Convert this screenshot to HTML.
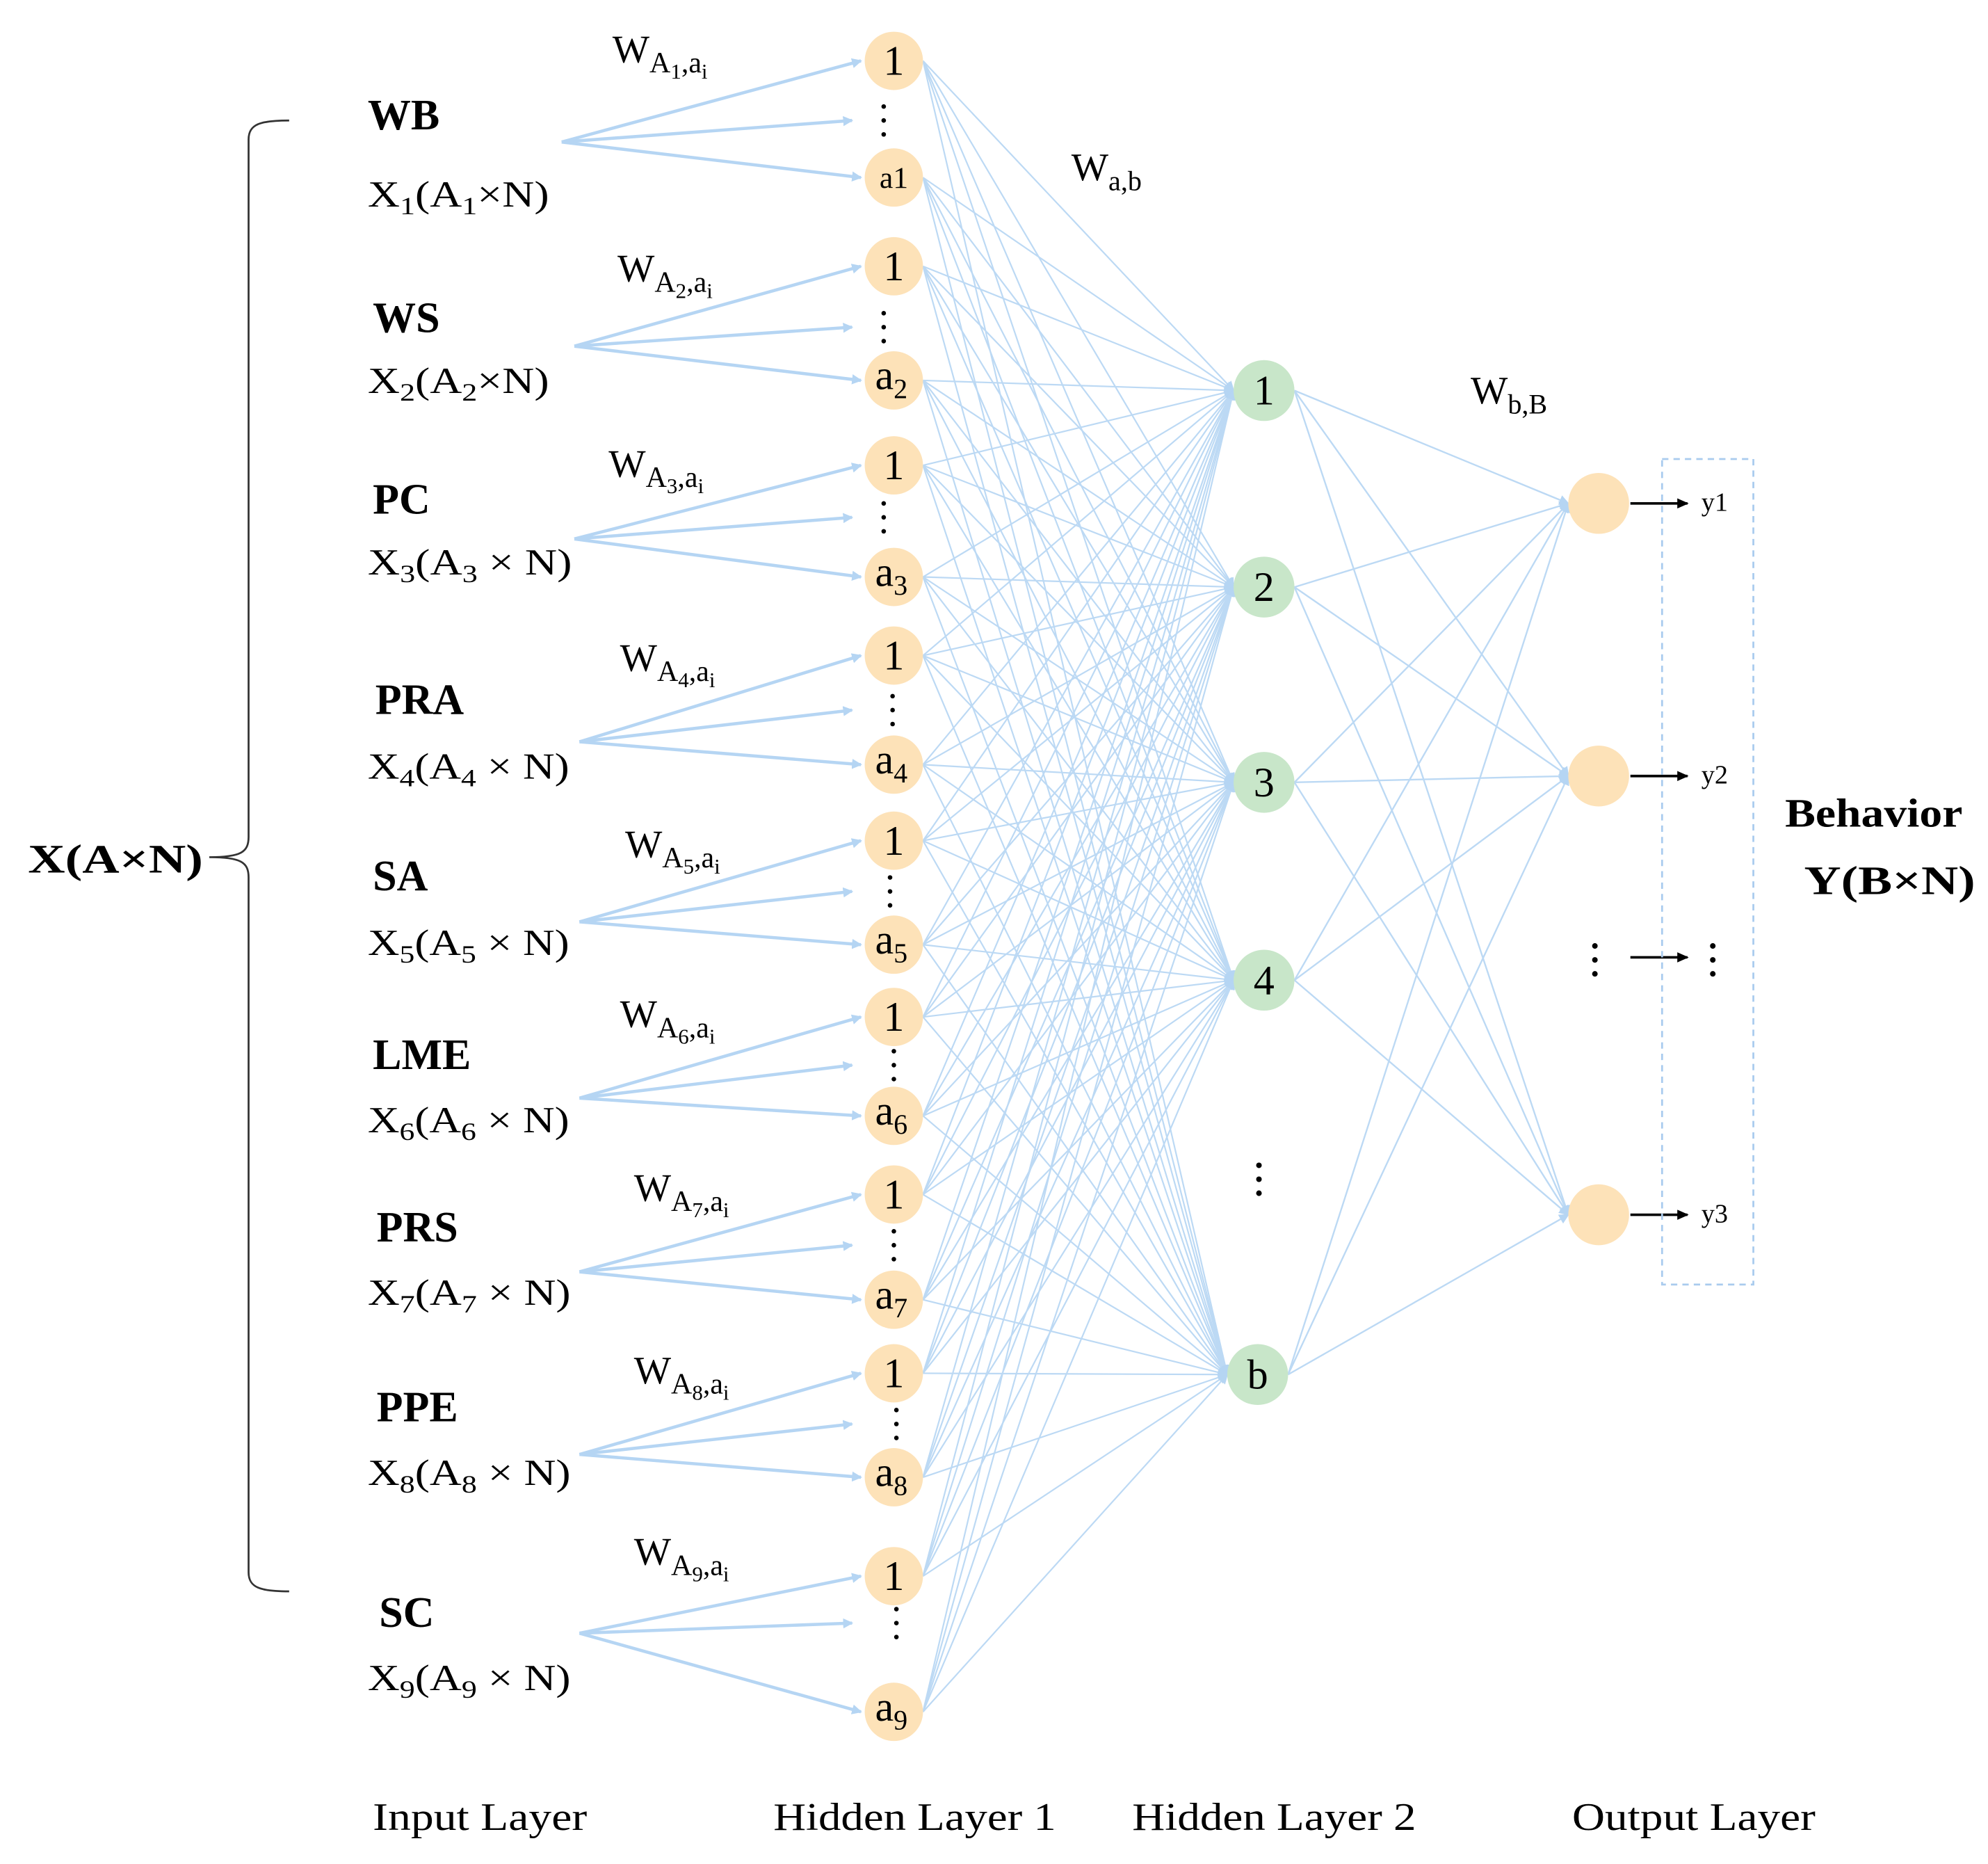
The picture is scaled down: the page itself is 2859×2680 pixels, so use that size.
<!DOCTYPE html>
<html><head><meta charset="utf-8"><style>
html,body{margin:0;padding:0;background:#fff;}
svg{display:block;}
text{font-family:"Liberation Serif",serif;fill:#000;}
</style></head><body>
<svg id="s" width="2859" height="2680" viewBox="0 0 1568 1470" xmlns="http://www.w3.org/2000/svg">
<defs>
<marker id="ar" markerWidth="8" markerHeight="8" refX="7" refY="4" orient="auto" markerUnits="userSpaceOnUse"><path d="M0,0 L8,4 L0,8 z" fill="#b5d5f3"/></marker>
<marker id="ak" markerWidth="9" markerHeight="8" refX="8" refY="4" orient="auto" markerUnits="userSpaceOnUse"><path d="M0,0 L9,4 L0,8 z" fill="#000"/></marker>
</defs>
<g id="lines"></g>
<g id="nodes"></g>
<g id="txt">
<path d="M228,95 C205,95 196,98 196,110 L196,660 C196,672 190,676 165,676 C190,676 196,680 196,692 L196,1240 C196,1252 205,1255 228,1255" fill="none" stroke="#333" stroke-width="1.5"/>
<text x="22" y="688" font-size="32" font-weight="bold" textLength="138" lengthAdjust="spacingAndGlyphs">X(A×N)</text>
<text x="1408" y="652" font-size="32" font-weight="bold" textLength="140" lengthAdjust="spacingAndGlyphs">Behavior</text>
<text x="1423" y="705" font-size="32" font-weight="bold" textLength="135" lengthAdjust="spacingAndGlyphs">Y(B×N)</text>
<text x="294" y="1443" font-size="31" textLength="169" lengthAdjust="spacingAndGlyphs">Input Layer</text>
<text x="610" y="1443" font-size="31" textLength="223" lengthAdjust="spacingAndGlyphs">Hidden Layer 1</text>
<text x="893" y="1443" font-size="31" textLength="224" lengthAdjust="spacingAndGlyphs">Hidden Layer 2</text>
<text x="1240" y="1443" font-size="31" textLength="192" lengthAdjust="spacingAndGlyphs">Output Layer</text>
<text x="845" y="142" font-size="31">W<tspan font-size="22" dy="8">a,b</tspan></text>
<text x="1160" y="318" font-size="31">W<tspan font-size="22" dy="8">b,B</tspan></text>
<rect x="1311" y="362" width="72" height="651" fill="none" stroke="#a9cbee" stroke-width="1.5" stroke-dasharray="5,4"/>
</g>
</svg>
<script>
const NS="http://www.w3.org/2000/svg";
const L=document.getElementById('lines'),N=document.getElementById('nodes'),T=document.getElementById('txt');
function el(p,tag,a,txt){const e=document.createElementNS(NS,tag);for(const k in a)e.setAttribute(k,a[k]);if(txt!==undefined)e.innerHTML=txt;p.appendChild(e);return e;}
const h1x=705,r=23;
function xl(i,sp){return "X<tspan font-size='20' dy='6'>"+i+"</tspan><tspan dy='-6'>(A</tspan><tspan font-size='20' dy='6'>"+i+"</tspan><tspan dy='-6'>"+(sp?" × N)":"×N)")+"</tspan>";}
const groups=[
 {name:"WB",lx:290,ly:90,xy:153,xw:143,o:[443,112],n1:48,a:140,al:"a1",d:95,dx:697,wx:483,wy:45},
 {name:"WS",lx:294,ly:250,xy:300,xw:143,o:[453,273],n1:210,a:300,al:"2",d:258,dx:697,wx:487,wy:218},
 {name:"PC",lx:294,ly:393,xy:443,xw:161,o:[453,425],n1:367,a:455,al:"3",d:408,dx:697,wx:480,wy:372},
 {name:"PRA",lx:296,ly:551,xy:604,xw:159,o:[457,585],n1:517,a:603,al:"4",d:560,dx:704,wx:489,wy:525},
 {name:"SA",lx:294,ly:690,xy:743,xw:159,o:[457,727],n1:663,a:745,al:"5",d:703,dx:702,wx:493,wy:672},
 {name:"LME",lx:294,ly:831,xy:883,xw:159,o:[457,866],n1:802,a:880,al:"6",d:840,dx:705,wx:489,wy:806},
 {name:"PRS",lx:297,ly:967,xy:1019,xw:160,o:[457,1003],n1:942,a:1025,al:"7",d:982,dx:705,wx:500,wy:943},
 {name:"PPE",lx:297,ly:1109,xy:1161,xw:160,o:[457,1147],n1:1083,a:1165,al:"8",d:1123,dx:707,wx:500,wy:1087},
 {name:"SC",lx:299,ly:1271,xy:1323,xw:160,o:[457,1288],n1:1243,a:1350,al:"9",d:1280,dx:707,wx:500,wy:1230}
];
const h2=[[997,308,"1"],[997,463,"2"],[997,617,"3"],[997,773,"4"],[992,1084,"b"]];
const out=[[1261,397],[1261,612],[1261,958]];
const h1=[];
groups.forEach(g=>{h1.push([h1x,g.n1]);h1.push([h1x,g.a]);});
h1.forEach(p=>h2.forEach(q=>{el(L,'line',{x1:p[0]+r,y1:p[1],x2:q[0]-24,y2:q[1],stroke:'#bcd9f4','stroke-width':1.2,'marker-end':'url(#ar)'});}));
h2.forEach(p=>out.forEach(q=>{el(L,'line',{x1:p[0]+24,y1:p[1],x2:q[0]-24,y2:q[1],stroke:'#bcd9f4','stroke-width':1.3,'marker-end':'url(#ar)'});}));
groups.forEach((g,gi)=>{
 const [ox,oy]=g.o;
 el(L,'line',{x1:ox,y1:oy,x2:h1x-r-3,y2:g.n1,stroke:'#b5d5f3','stroke-width':2.5,'marker-end':'url(#ar)'});
 el(L,'line',{x1:ox,y1:oy,x2:672,y2:(g.d),stroke:'#b5d5f3','stroke-width':2.5,'marker-end':'url(#ar)'});
 el(L,'line',{x1:ox,y1:oy,x2:h1x-r-3,y2:g.a,stroke:'#b5d5f3','stroke-width':2.5,'marker-end':'url(#ar)'});
 el(N,'circle',{cx:h1x,cy:g.n1,r:r,fill:'#fde2b8'});
 el(N,'circle',{cx:h1x,cy:g.a,r:r,fill:'#fde2b8'});
 el(N,'text',{x:h1x,y:g.n1+11,'font-size':33,'text-anchor':'middle'},'1');
 if(g.al==="a1") el(N,'text',{x:h1x,y:g.a+8,'font-size':24,'text-anchor':'middle'},'a1');
 else el(N,'text',{x:h1x-2,y:g.a+7,'font-size':33,'text-anchor':'middle'},"a<tspan font-size='22' dy='7'>"+g.al+"</tspan>");
 for(let k=-1;k<=1;k++) el(N,'circle',{cx:g.dx,cy:g.d+k*11,r:1.8,fill:'#000'});
 el(T,'text',{x:g.lx,y:g.ly+12,'font-size':34,'font-weight':'bold'},g.name);
 el(T,'text',{x:290,y:g.xy+10,'font-size':29,textLength:g.xw,lengthAdjust:'spacingAndGlyphs'},xl(gi+1,gi>=2));
 el(T,'text',{x:g.wx,y:g.wy+4,'font-size':31},"W<tspan font-size='23' dy='8'>A</tspan><tspan font-size='17' dy='5'>"+(gi+1)+"</tspan><tspan font-size='23' dy='-5'>,a</tspan><tspan font-size='17' dy='5'>i</tspan>");
});
h2.forEach(q=>{el(N,'circle',{cx:q[0],cy:q[1],r:24,fill:'#c8e6c9'});el(N,'text',{x:q[0],y:q[1]+11,'font-size':33,'text-anchor':'middle'},q[2]);});
out.forEach((q,i)=>{el(N,'circle',{cx:q[0],cy:q[1],r:24,fill:'#fde2b8'});
 el(N,'line',{x1:1286,y1:q[1],x2:1331,y2:q[1],stroke:'#000','stroke-width':2,'marker-end':'url(#ak)'});
 el(N,'text',{x:1342,y:q[1]+6,'font-size':21},'y'+(i+1));});
[[993,930],[1258,757],[1351,757]].forEach(d=>{for(let k=-1;k<=1;k++)el(N,'circle',{cx:d[0],cy:d[1]+k*11,r:2.2,fill:'#000'});});
el(N,'line',{x1:1286,y1:755,x2:1331,y2:755,stroke:'#000','stroke-width':2,'marker-end':'url(#ak)'});
</script>
</body></html>
